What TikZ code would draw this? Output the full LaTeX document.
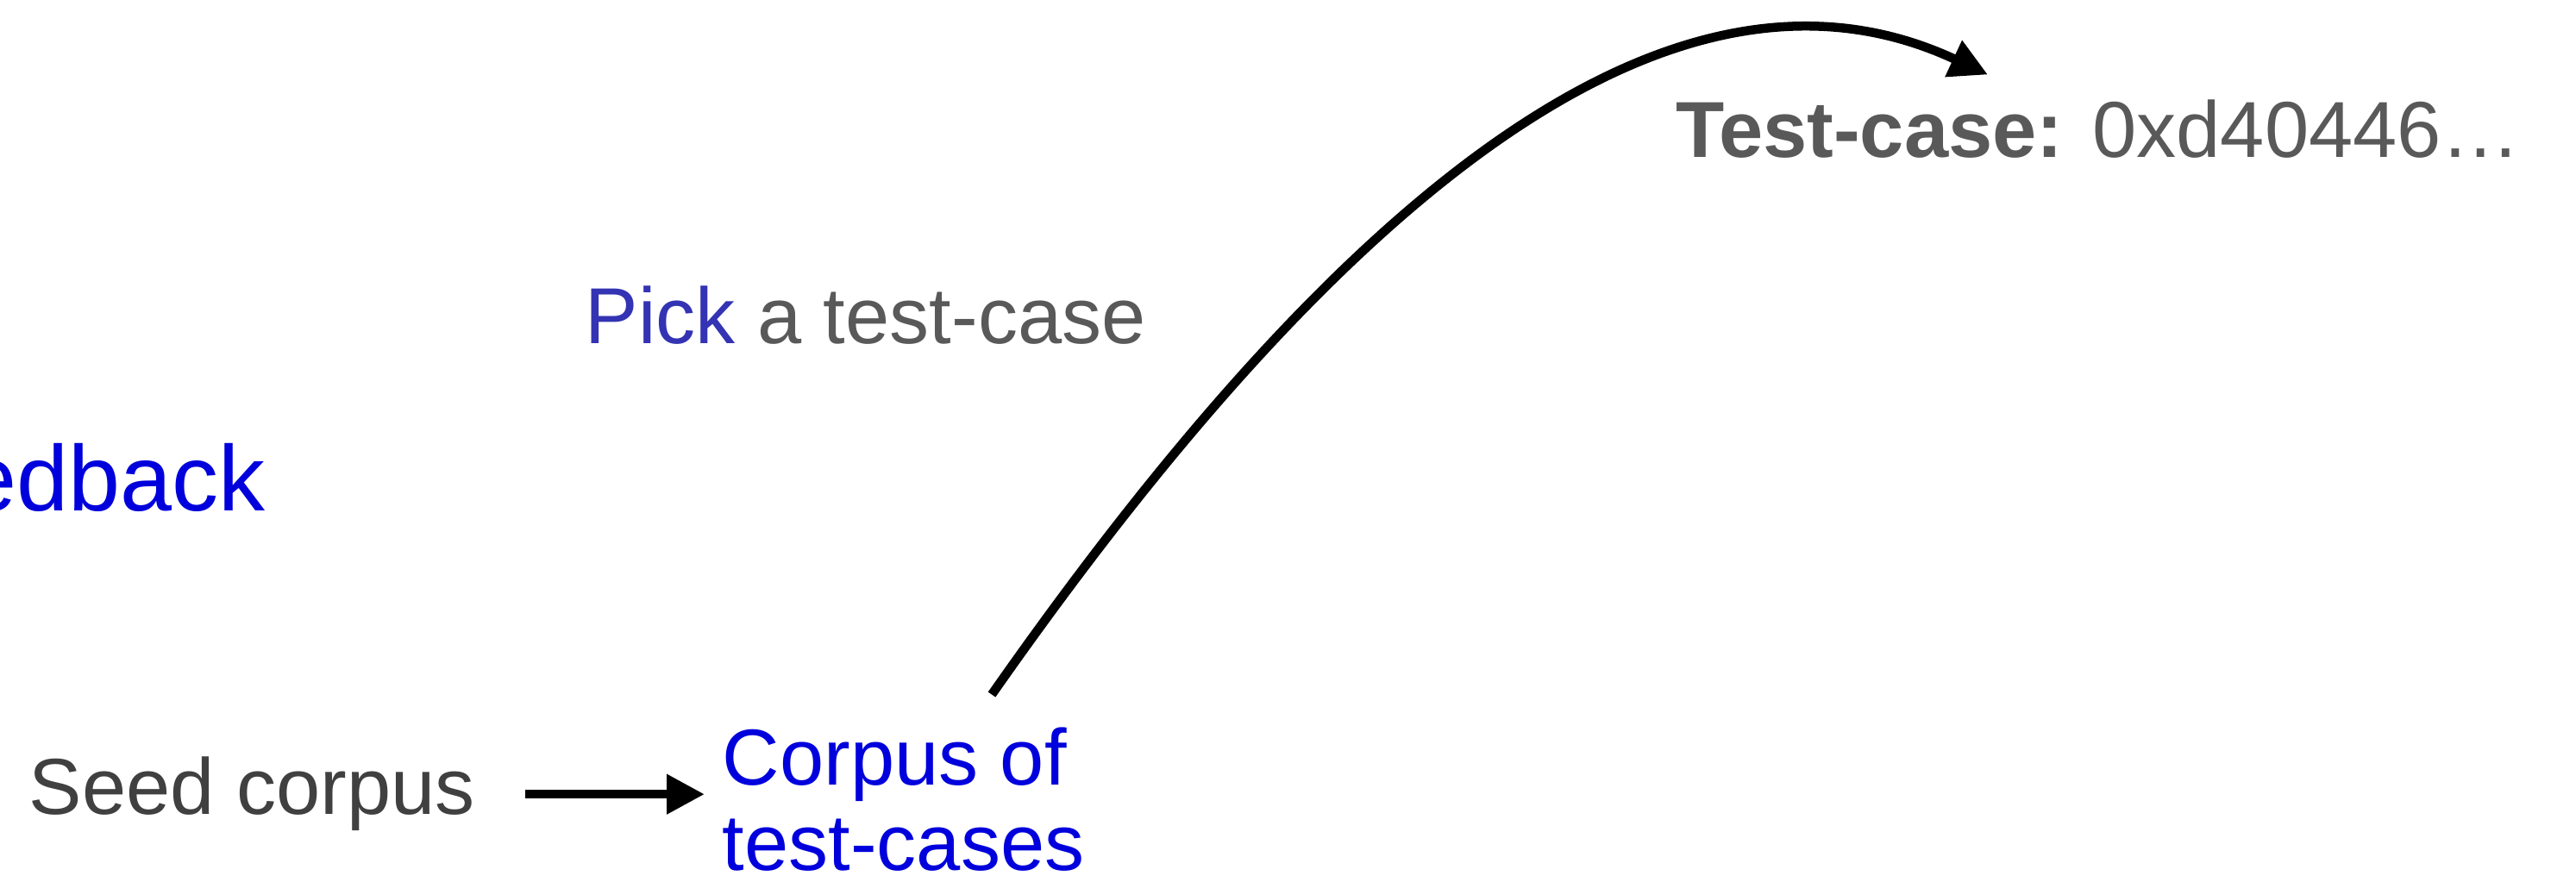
\documentclass[tikz,border=0pt]{standalone}
\usepackage{fontspec}
\setmainfont{Liberation Sans}
\usetikzlibrary{arrows.meta,positioning,calc}
\definecolor{loopblue}{RGB}{0,0,220}
\definecolor{pickblue}{RGB}{51,51,179}
\definecolor{labelgray}{RGB}{89,89,89}
\definecolor{seedgray}{RGB}{64,64,64}

\begin{document}
\begin{tikzpicture}[
  label/.style={
    inner sep=0pt,
    font=\fontsize{26.2}{28.2}\selectfont,
    text=labelgray,
    align=left,
    anchor=base west
  },
  loopnote/.style={
    inner sep=0pt,
    font=\fontsize{30.7}{33}\selectfont,
    text=loopblue
  },
  flow/.style={
    -{Triangle[length=.44cm,width=.44cm]},
    line width=.105cm
  }
]
\useasboundingbox (0,0) rectangle (29.87,-10.23);

\node[loopnote,anchor=base east] (feedback) at (3.08,-5.93) {Feedback};
\node[label,text=seedgray] (seed) at (0.33,-9.45) {Seed corpus};
\node[label,text=loopblue] (corpus) at (8.37,-10.10) {Corpus of\\test-cases};
\node[label] (pick) at (6.78,-3.99) {\textcolor{pickblue}{Pick} a test-case};
\node[label] (testcase) at (19.43,-1.83) {\textbf{Test-case:} 0xd40446…};

% Seed corpus into the corpus
\draw[flow,shorten <=.58cm,shorten >=.2cm]
  (seed.east) -- (seed.east -| corpus.west);

% Pick a test-case from the corpus
\coordinate (pickfrom) at ($(corpus.north east)+(-1.08,.38)$);
\coordinate (pickto) at ($(testcase.north west)+(3.62,.29)$);
\draw[flow]
  (pickfrom) to[out=55,in=155,out looseness=1.12,in looseness=.84] (pickto);

\end{tikzpicture}
\end{document}
